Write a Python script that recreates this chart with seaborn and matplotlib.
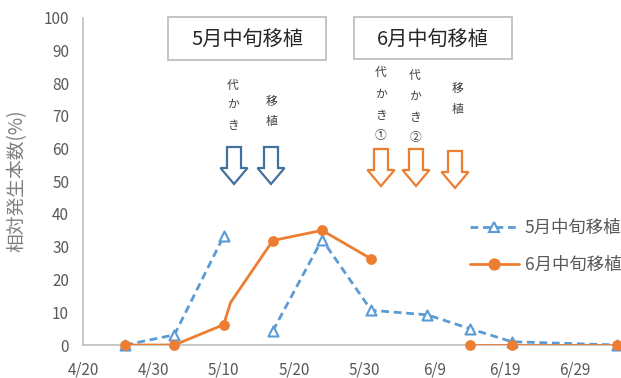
import numpy as np
import pandas as pd
import matplotlib
matplotlib.use("Agg")
import matplotlib.pyplot as plt
from matplotlib.patches import Polygon, Rectangle
from matplotlib.lines import Line2D
import seaborn as sns

# ---- data -------------------------------------------------------------
survey_dates = ["4/26", "5/3", "5/10", "5/11", "5/17", "5/24", "5/31",
                "6/8", "6/14", "6/20", "7/5"]
may_transplant = [0, 3.1, 33.2, np.nan, 4.3, 32.2, 10.6, 9.2, 5.0, 1.0, 0]
june_transplant = [0, 0, 6.2, 13.0, 31.9, 35.0, 26.3, np.nan, 0, 0, 0]
series_names = ["5月中旬移植", "6月中旬移植"]
x_tick_labels = ["4/20", "4/30", "5/10", "5/20", "5/30", "6/9", "6/19", "6/29"]
y_ticks = list(range(0, 101, 10))
y_label = "相対発生本数(%)"

YEAR = 2019


def to_date(s):
    m, d = s.split("/")
    return pd.Timestamp(YEAR, int(m), int(d))


df = pd.DataFrame({
    "date": [to_date(s) for s in survey_dates],
    series_names[0]: may_transplant,
    series_names[1]: june_transplant,
})

BLUE = "#5B9BD5"
ORANGE = "#ED7D31"
ARROW_BLUE = "#41719C"
GREY_TEXT = "#595959"

sns.set_theme(style="white")
plt.rcParams["font.family"] = ["Noto Sans CJK JP", "DejaVu Sans"]

W, H = 621, 378
fig = plt.figure(figsize=(W / 100, H / 100), dpi=100)


def px(x, y):
    """pixel position (from top-left) -> figure fraction"""
    return x / W, 1 - y / H


# axes: x from 4/20 to 7/9, extends past the right edge
x0, x1 = 83, 83 + 80 * 7.03
y_top, y_bot = 17.5, 345
ax = fig.add_axes([x0 / W, 1 - y_bot / H, (x1 - x0) / W, (y_bot - y_top) / H])


def segments(frame, col):
    """split a series at missing values so the line breaks there"""
    seg_id = frame[col].isna().cumsum()
    sub = frame.assign(seg=seg_id).dropna(subset=[col])
    return [g for _, g in sub.groupby("seg")]


# May transplant: dashed blue with hollow triangles
for seg in segments(df, series_names[0]):
    sns.lineplot(data=seg, x="date", y=series_names[0], ax=ax, color=BLUE,
                 linewidth=2.0, zorder=3, legend=False)
    ax.lines[-1].set_dashes((2.8, 1.7))
    ax.lines[-1].set_dash_capstyle("butt")

# June transplant: solid orange
for seg in segments(df, series_names[1]):
    sns.lineplot(data=seg, x="date", y=series_names[1], ax=ax, color=ORANGE,
                 linewidth=2.0, zorder=3, legend=False)

may_pts = df.dropna(subset=[series_names[0]])
sns.scatterplot(data=may_pts, x="date", y=series_names[0], ax=ax, marker="^",
                s=52, facecolor="white", edgecolor=BLUE, linewidth=1.5,
                zorder=4, clip_on=False, legend=False)
june_pts = df.dropna(subset=[series_names[1]])
june_pts = june_pts[june_pts["date"] != to_date("5/11")]
sns.scatterplot(data=june_pts, x="date", y=series_names[1], ax=ax, marker="o",
                s=60, color=ORANGE, edgecolor=ORANGE, linewidth=0,
                zorder=5, clip_on=False, legend=False)

# axes styling
ax.set_xlim(to_date("4/20"), to_date("7/9"))
ax.set_ylim(0, 100)
ax.set_xticks([to_date(s) for s in x_tick_labels])
ax.set_xticklabels(x_tick_labels)
ax.set_yticks(y_ticks)
ax.set_yticklabels([str(v) for v in y_ticks])
ax.tick_params(axis="both", length=0, colors=GREY_TEXT, labelsize=11)
ax.tick_params(axis="y", pad=10)
ax.tick_params(axis="x", pad=12)
ax.set_xlabel("")
ax.set_ylabel("")
for side in ("top", "right"):
    ax.spines[side].set_visible(False)
for side in ("left", "bottom"):
    ax.spines[side].set_color("#BFBFBF")
    ax.spines[side].set_linewidth(1.2)
ax.grid(False)

fig.text(*px(17, 181), y_label, rotation=90, ha="center", va="center",
         fontsize=13.5, color="#7F7F7F")

# titled boxes
for (bx0, by0, bx1, by1), label in zip([(168, 17, 326, 60), (354, 17, 512, 59)],
                                       series_names):
    fx, fy = px(bx0, by1)
    fig.patches.append(Rectangle((fx, fy), (bx1 - bx0) / W, (by1 - by0) / H,
                                 transform=fig.transFigure, facecolor="white",
                                 edgecolor="#BFBFBF", linewidth=1.3))
    fig.text(*px((bx0 + bx1) / 2, (by0 + by1) / 2 + 2), label, ha="center",
             va="center", fontsize=14.5, color="#262626")


def vtext(x, ys, chars, color="#404040", size=8.5):
    for y, ch in zip(ys, chars):
        fig.text(*px(x, y), ch, ha="center", va="center", fontsize=size,
                 color=color)


vtext(233, [85, 104, 126], "代かき")
vtext(272, [101, 121], "移植")
vtext(381, [72, 94, 115, 135], "代かき①")
vtext(415, [75, 96, 117, 138], "代かき②")
vtext(458, [88, 110], "移植")


def hollow_arrow(cx, top, head, tip, color, shaft=7, wing=13.5):
    pts = [(cx - shaft, top), (cx + shaft, top), (cx + shaft, head),
           (cx + wing, head), (cx, tip), (cx - wing, head), (cx - shaft, head)]
    fig.patches.append(Polygon([px(x, y) for x, y in pts], closed=True,
                               transform=fig.transFigure, facecolor="white",
                               edgecolor=color, linewidth=1.6,
                               joinstyle="miter"))


hollow_arrow(234, 147, 168, 184, ARROW_BLUE)
hollow_arrow(271, 147, 168, 184, ARROW_BLUE)
hollow_arrow(381, 149, 170, 186, ORANGE)
hollow_arrow(416, 149, 170, 186, ORANGE)
hollow_arrow(455, 151, 172, 188, ORANGE)

# legend
handles = [
    Line2D([], [], color=BLUE, linewidth=2.0, dashes=(2.8, 1.7), marker="^",
           markersize=7, markerfacecolor="white", markeredgecolor=BLUE,
           markeredgewidth=1.5),
    Line2D([], [], color=ORANGE, linewidth=2.0, marker="o", markersize=7.8,
           markerfacecolor=ORANGE, markeredgecolor=ORANGE),
]
fig.legend(handles, series_names, loc="upper left",
           bbox_to_anchor=px(470, 219), frameon=False, fontsize=12.5,
           labelcolor=GREY_TEXT, handlelength=2.8, handletextpad=0.35,
           labelspacing=1.1, borderpad=0, borderaxespad=0)

fig.savefig("out.png", dpi=100)
